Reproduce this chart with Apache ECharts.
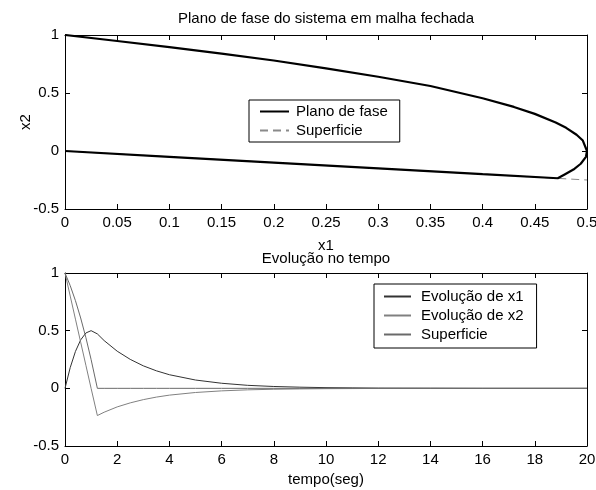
<!DOCTYPE html>
<html>
<head>
<meta charset="utf-8">
<script src="https://cdn.jsdelivr.net/npm/echarts@6/dist/echarts.min.js"></script>
<style>
  html, body { margin: 0; padding: 0; background: #fff; }
  #chart { width: 596px; height: 490px; }
</style>
</head>
<body>
<div id="chart"></div>
<script>
// ---- Phase plane: closed-loop trajectory (x1, x2) ----
const phaseX1 = [0, 0.05, 0.1, 0.15, 0.2, 0.25, 0.3, 0.35, 0.4, 0.43, 0.45, 0.47, 0.48, 0.49, 0.496, 0.5,
                 0.499, 0.494, 0.487, 0.479, 0.472, 0.4, 0.3, 0.2, 0.1, 0];
const phaseX2 = [1, 0.948, 0.896, 0.84, 0.78, 0.712, 0.64, 0.56, 0.455, 0.38, 0.32, 0.245, 0.2, 0.14, 0.09, 0,
                 -0.05, -0.11, -0.16, -0.2, -0.235, -0.2, -0.15, -0.1, -0.05, 0];
// Sliding surface line in the phase plane
const surfX1 = [0, 0.5];
const surfX2 = [0, -0.25];

// ---- Time response ----
const time  = [0, 0.2, 0.4, 0.6, 0.8, 1.0, 1.24, 1.5, 2, 2.5, 3, 3.5, 4, 5, 6, 7, 8, 9, 10, 11, 12, 14, 16, 18, 20];
const evoX1 = [0, 0.18, 0.32, 0.42, 0.48, 0.5, 0.472, 0.414, 0.322, 0.251, 0.195, 0.152, 0.118, 0.072, 0.044,
               0.026, 0.016, 0.01, 0.006, 0.004, 0.002, 0.001, 0, 0, 0];
const evoX2 = [1, 0.8, 0.6, 0.4, 0.2, 0, -0.236, -0.207, -0.161, -0.126, -0.098, -0.076, -0.059, -0.036, -0.022,
               -0.013, -0.008, -0.005, -0.003, -0.002, -0.001, 0, 0, 0, 0];
const evoS  = [1, 0.89, 0.76, 0.61, 0.44, 0.25, 0, 0, 0, 0, 0, 0, 0, 0, 0,
               0, 0, 0, 0, 0, 0, 0, 0, 0, 0];

// Tick settings
const phaseXTicks = { min: 0, max: 0.5, interval: 0.05 };
const valueYTicks = { min: -0.5, max: 1, interval: 0.5 };
const timeTicks   = { min: 0, max: 20, interval: 2 };

const FONT = '"Liberation Sans", Arial, Helvetica, sans-serif';
const txt = { color: '#000', fontFamily: FONT, fontSize: 15 };

function pairs(xs, ys) { return xs.map((x, i) => [x, ys[i]]); }

function axis(grid, pos, ticks, labels, extra) {
  return Object.assign({
    type: 'value',
    gridIndex: grid,
    position: pos,
    min: ticks.min, max: ticks.max, interval: ticks.interval,
    axisLine: { show: true, onZero: false, lineStyle: { color: '#000', width: 1 } },
    axisTick: { show: true, inside: true, length: 5, lineStyle: { color: '#000', width: 1 } },
    axisLabel: Object.assign({ show: labels, margin: 6 }, txt),
    splitLine: { show: false },
    nameMoveOverlap: false,
    nameTextStyle: Object.assign({}, txt)
  }, extra || {});
}

// Boxed legend, line sample only (no marker)
function boxLegend(names, left, top, padding, itemWidth, textPad, extra) {
  return Object.assign({
    data: names,
    orient: 'vertical',
    left: left, top: top,
    padding: padding,
    itemWidth: itemWidth, itemHeight: 10, itemGap: 0,
    borderColor: '#000', borderWidth: 1, borderRadius: 0,
    backgroundColor: '#fff',
    selectedMode: false,
    itemStyle: { color: 'rgba(0,0,0,0)', borderWidth: 0, opacity: 0 },
    textStyle: Object.assign({ lineHeight: 19, padding: [0, 0, 0, textPad] }, txt)
  }, extra || {});
}

const chart = echarts.init(document.getElementById('chart'), null, { renderer: 'canvas' });

chart.setOption({
  animation: false,
  backgroundColor: '#fff',
  grid: [
    { left: 65, top: 35, width: 522, height: 174, containLabel: false, outerBoundsMode: 'none' },
    { left: 65, top: 273, width: 522, height: 173, containLabel: false, outerBoundsMode: 'none' }
  ],
  xAxis: [
    axis(0, 'bottom', phaseXTicks, true, { name: 'x1', nameLocation: 'middle', nameGap: 29 }),
    axis(0, 'top', phaseXTicks, false,
         { name: 'Plano de fase do sistema em malha fechada', nameLocation: 'middle', nameGap: 9 }),
    axis(1, 'bottom', timeTicks, true, { name: 'tempo(seg)', nameLocation: 'middle', nameGap: 26 }),
    axis(1, 'top', timeTicks, false, { name: 'Evolução no tempo', nameLocation: 'middle', nameGap: 7 })
  ],
  yAxis: [
    axis(0, 'left', valueYTicks, true, { name: 'x2', nameLocation: 'middle', nameGap: 32 }),
    axis(0, 'right', valueYTicks, false),
    axis(1, 'left', valueYTicks, true),
    axis(1, 'right', valueYTicks, false)
  ],
  legend: [
    boxLegend(['Plano de fase', 'Superficie'], 249, 100, [2, 12, 2, 10], 29, 2),
    boxLegend(['Evolução de x1', 'Evolução de x2', 'Superficie '], 374, 284, [3, 13, 4, 9], 27, 5,
              { formatter: name => name.trim() })
  ],
  series: [
    {
      name: 'Superficie', type: 'line', xAxisIndex: 0, yAxisIndex: 0,
      data: pairs(surfX1, surfX2), symbol: 'none', showSymbol: false,
      color: '#8a8a8a',
      lineStyle: { color: '#8a8a8a', width: 1, type: [8, 5] }
    },
    {
      name: 'Plano de fase', type: 'line', xAxisIndex: 0, yAxisIndex: 0,
      data: pairs(phaseX1, phaseX2), symbol: 'none', showSymbol: false,
      color: '#000',
      lineStyle: { color: '#000', width: 2.2 }
    },
    {
      name: 'Evolução de x1', type: 'line', xAxisIndex: 2, yAxisIndex: 2,
      data: pairs(time, evoX1), symbol: 'none', showSymbol: false,
      color: '#333',
      lineStyle: { color: '#333', width: 1 }
    },
    {
      name: 'Evolução de x2', type: 'line', xAxisIndex: 2, yAxisIndex: 2,
      data: pairs(time, evoX2), symbol: 'none', showSymbol: false,
      color: '#808080',
      lineStyle: { color: '#808080', width: 1 }
    },
    {
      name: 'Superficie ', type: 'line', xAxisIndex: 2, yAxisIndex: 2,
      data: pairs(time, evoS), symbol: 'none', showSymbol: false,
      color: '#6a6a6a',
      lineStyle: { color: '#6a6a6a', width: 1 }
    }
  ]
});
</script>
</body>
</html>
